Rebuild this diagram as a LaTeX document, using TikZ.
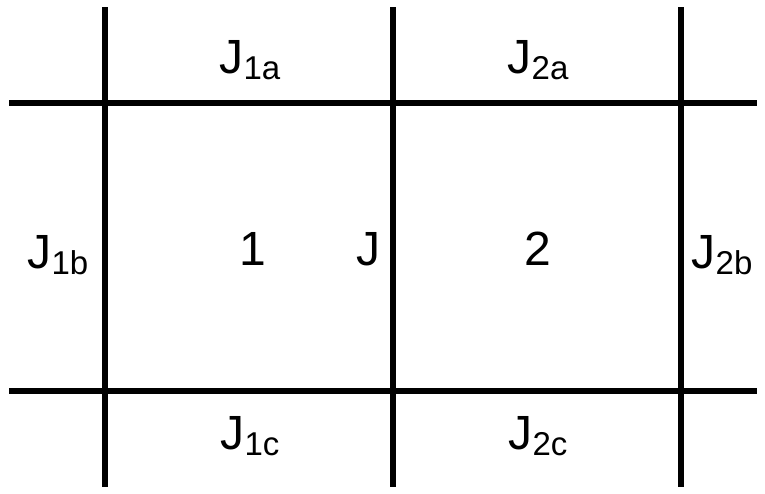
\documentclass[tikz,border=0pt]{standalone}
\usepackage{fontspec}
\setmainfont{Liberation Sans}
\newcommand{\lsub}[1]{\raisebox{-6pt}{\fontsize{33}{40}\selectfont #1}}
\begin{document}
\begin{tikzpicture}
    [x=1pt,y=-1pt,
    wall/.style={line width=6pt},
    lbl/.style={anchor=base,inner sep=0pt,font=\fontsize{48}{58}\selectfont}]
    \useasboundingbox (0,0) rectangle (765,493);
    %end points of the walls
    \coordinate (v1t) at (105,7);
    \coordinate (v1b) at (105,487);
    \coordinate (v2t) at (393,7);
    \coordinate (v2b) at (393,487);
    \coordinate (v3t) at (681,7);
    \coordinate (v3b) at (681,487);
    \coordinate (h1l) at (9,103);
    \coordinate (h1r) at (757,103);
    \coordinate (h2l) at (9,391);
    \coordinate (h2r) at (757,391);
    %walls
    \draw[wall] (v1t)--(v1b);
    \draw[wall] (v2t)--(v2b);
    \draw[wall] (v3t)--(v3b);
    \draw[wall] (h1l)--(h1r);
    \draw[wall] (h2l)--(h2r);
    %labels
    \node[lbl] (j1a) at (250,73) {J\lsub{1a}};
    \node[lbl] (j2a) at (538,73) {J\lsub{2a}};
    \node[lbl] (j1b) at (58,268) {J\lsub{1b}};
    \node[lbl] (one) at (253,265) {1};
    \node[lbl] (j) at (368,265) {J};
    \node[lbl] (two) at (538,265) {2};
    \node[lbl] (j2b) at (722,268) {J\lsub{2b}};
    \node[lbl] (j1c) at (250,449) {J\lsub{1c}};
    \node[lbl] (j2c) at (538,449) {J\lsub{2c}};
\end{tikzpicture}
\end{document}
